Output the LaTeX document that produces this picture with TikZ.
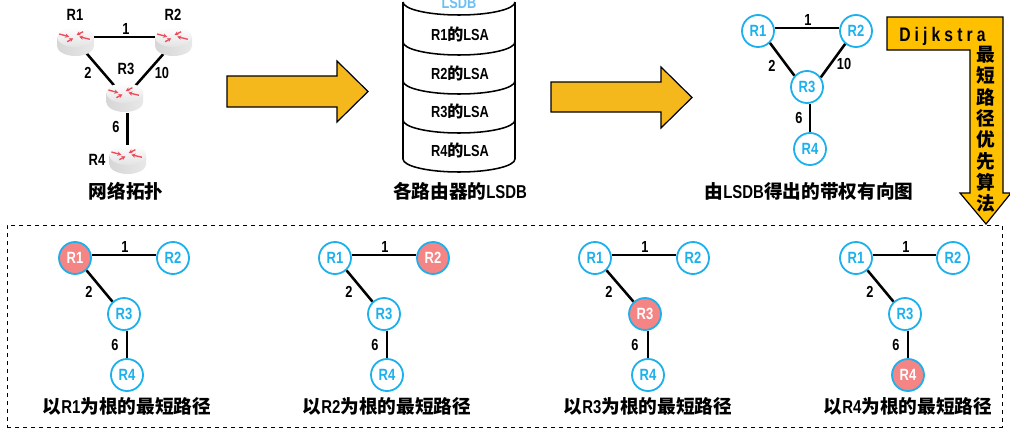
\documentclass[tikz,border=0pt]{standalone}
\usepackage{fontspec}
\usetikzlibrary{arrows.meta,shapes.geometric,calc}
\setmainfont{Liberation Sans}
\newfontfamily\cjbase{Noto Sans CJK SC}
\newfontfamily\labase[FakeStretch=0.8]{Liberation Sans}
\newfontfamily\lasp[FakeStretch=0.8,LetterSpace=21]{Liberation Sans}
\newcommand{\cjf}{\cjbase\bfseries}
\newcommand{\laf}{\labase\bfseries}
\definecolor{cblue}{HTML}{1CB0EC}
\definecolor{lblue}{HTML}{6CBFF5}
\definecolor{rootred}{HTML}{F58484}
\definecolor{arrowgold}{HTML}{F4B81C}
\definecolor{dijgold}{HTML}{FFC000}
\definecolor{iconred}{HTML}{EE4B5A}
\tikzset{
  x=0.75pt,y=-0.75pt,
  gnode/.style={circle,draw=cblue,line width=1.35pt,fill=white,minimum size=24pt,inner sep=0pt,text=cblue,font=\laf\fontsize{12.2}{14}\selectfont},
  rootnode/.style={gnode,fill=rootred,text=white},
  link/.style={line width=1.9pt,black},
  weight/.style={inner sep=0pt,font=\laf\fontsize{12}{14}\selectfont},
  rlabel/.style={inner sep=0pt,font=\laf\fontsize{12.2}{14}\selectfont},
  routernode/.style={ellipse,minimum width=27.75pt,minimum height=21.75pt,inner sep=0pt},
  capt/.style={inner sep=0pt,font=\fontsize{14}{16}\selectfont},
  lsa/.style={inner sep=0pt,font=\fontsize{12}{14}\selectfont},
  flowarrow/.style={draw=black,line width=0.9pt,fill=arrowgold,line join=miter},
  iconarrow/.style={iconred,line width=1pt,-{Stealth[length=3pt,width=3.2pt]}},
  pics/routericon/.style={code={
    \path[left color=black!16,right color=black!9]
      (-18.5,0) -- (-18.5,9) arc[start angle=180,end angle=360,x radius=13.875pt,y radius=7.5pt] -- (18.5,0) -- cycle;
    \path[top color=white,bottom color=black!11] (0,0) ellipse[x radius=13.875pt,y radius=7.5pt];
    \draw[iconarrow] (-16.3,-3) -- (-6.3,-0.3);
    \draw[iconarrow] (7.7,-5.3) -- (1,-2);
    \draw[iconarrow] (-8.3,4.7) -- (-2.3,1.3);
    \draw[iconarrow] (14.3,2.3) -- (3.7,-0.3);
  }}
}
\newcommand{\sptree}[9]{%
  \node[#6] (#1a) at (#2,258) {R1};
  \node[#7] (#1b) at (#3,258) {R2};
  \node[#8] (#1c) at (#4,314) {R3};
  \node[#9] (#1d) at (#5,375) {R4};
  \draw[link] ([yshift=2.25pt]#1a.east) -- ([yshift=2.25pt]#1b.west);
  \draw[link] (#1a.-47) -- (#1c.133);
  \draw[link] (#1d.north) -- (#1d.north |- #1c.south);
  \node[weight] (#1w) at ($(#1a.center)+(50,-11)$) {1};
  \node[weight] (#1x) at ($(#1a.center)+(14,34)$) {2};
  \node[weight] (#1y) at ($(#1a.center)+(40,87)$) {6};
}
\begin{document}
\begin{tikzpicture}
\useasboundingbox (0,0) rectangle (1010,432);
\clip (0,0) rectangle (1010,432);

% --- network topology ---
\node[routernode] (t1) at (75.5,41.5) {};
\node[routernode] (t2) at (173.5,41.5) {};
\node[routernode] (t3) at (124.7,98) {};
\node[routernode] (t4) at (127.5,159.5) {};
\draw[link] ([yshift=3.4pt]t1.east) -- ([yshift=3.4pt]t2.west);
\draw[link] (t1.-47) -- (t3.130);
\draw[link] (t2.-129) -- (t3.49);
\draw[link] (t4.north) -- (t4.north |- t3.south);
\pic at (75.5,37) {routericon};
\pic at (173.5,37) {routericon};
\pic at (124.7,93) {routericon};
\pic at (127.7,155) {routericon};
\node[rlabel] (lr1) at (75,15) {R1};
\node[rlabel] (lr2) at (173,15) {R2};
\node[rlabel] (lr3) at (126,69) {R3};
\node[rlabel] (lr4) at (97,160) {R4};
\node[weight] (w1) at (126,29) {1};
\node[weight] (w2) at (88,73) {2};
\node[weight] (w3) at (162,73) {10};
\node[weight] (w4) at (116,127) {6};
\node[capt] (cap1) at (126,191) {\cjf 网络拓扑};

% --- arrows ---
\draw[flowarrow] (227,76) -- (337,76) -- (337,61) -- (368,91.5) -- (337,122) -- (337,107) -- (227,107) -- cycle;
\draw[flowarrow] (551,82) -- (661,82) -- (661,67) -- (692,97.5) -- (661,128) -- (661,112) -- (551,112) -- cycle;

% --- LSDB cylinder ---
\draw[line width=1.15pt,fill=white] (403,2) -- (403,159) arc[start angle=180,end angle=360,x radius=42pt,y radius=9.75pt] -- (515,2);
\foreach \yy in {2,42,81,120}
  \draw[line width=1.15pt] (403,\yy) arc[start angle=180,end angle=360,x radius=42pt,y radius=9.75pt];
\node[lsa,text=lblue] (db) at (459,3) {\laf LSDB};
\node[lsa] (l1) at (460,34) {{\laf R1}{\cjf 的}{\laf LSA}};
\node[lsa] (l2) at (460,73) {{\laf R2}{\cjf 的}{\laf LSA}};
\node[lsa] (l3) at (460,111) {{\laf R3}{\cjf 的}{\laf LSA}};
\node[lsa] (l4) at (460,150) {{\laf R4}{\cjf 的}{\laf LSA}};
\node[capt] (cap2) at (460,191) {{\cjf 各路由器的}{\laf LSDB}};

% --- weighted graph ---
\node[gnode] (a) at (758,31) {R1};
\node[gnode] (b) at (856,31) {R2};
\node[gnode] (c) at (807,87) {R3};
\node[gnode] (d) at (810,149) {R4};
\draw[link] ([yshift=2.25pt]a.east) -- ([yshift=2.25pt]b.west);
\draw[link] (a.-45) -- (c.138);
\draw[link] (b.-130) -- (c.35);
\draw[link] (d.north) -- (d.north |- c.south);
\node[weight] (wa) at (808,20) {1};
\node[weight] (wb) at (772,66) {2};
\node[weight] (wc) at (844,64) {10};
\node[weight] (wd) at (799,118) {6};
\node[capt] (cap3) at (809,191) {{\cjf 由}{\laf LSDB}{\cjf 得出的带权有向图}};

% --- Dijkstra arrow ---
\draw[line width=0.9pt,fill=dijgold] (887,17) -- (1003,17) -- (1003,193) -- (1011,193) -- (986,224) -- (960,193) -- (970,193) -- (970,50) -- (887,50) -- cycle;
\node[inner sep=0pt,anchor=west,font=\lasp\bfseries\fontsize{14.7}{16}\selectfont] (dij) at (899,36) {Dijkstra};
\node[inner sep=0pt,align=center,font=\cjf\fontsize{14}{16}\selectfont] (dijv) at (986,129.5) {最\\短\\路\\径\\优\\先\\算\\法};

% --- dashed frame ---
\node[draw,dashed,line width=0.6pt,inner sep=0pt,minimum width=746.25pt,minimum height=151.5pt] (frame) at (504.5,326) {};

% --- shortest path trees ---
\sptree{p}{75}{173}{124}{127}{rootnode}{gnode}{gnode}{gnode}
\sptree{q}{335}{433}{384}{387}{gnode}{rootnode}{gnode}{gnode}
\sptree{r}{595}{693}{645}{648}{gnode}{gnode}{rootnode}{gnode}
\sptree{s}{856}{953}{905}{908}{gnode}{gnode}{gnode}{rootnode}
\node[capt] (cp) at (127,406) {{\cjf 以}{\laf R1}{\cjf 为根的最短路径}};
\node[capt] (cq) at (387,406) {{\cjf 以}{\laf R2}{\cjf 为根的最短路径}};
\node[capt] (cr) at (648,406) {{\cjf 以}{\laf R3}{\cjf 为根的最短路径}};
\node[capt] (cs) at (908,406) {{\cjf 以}{\laf R4}{\cjf 为根的最短路径}};
\end{tikzpicture}
\end{document}
